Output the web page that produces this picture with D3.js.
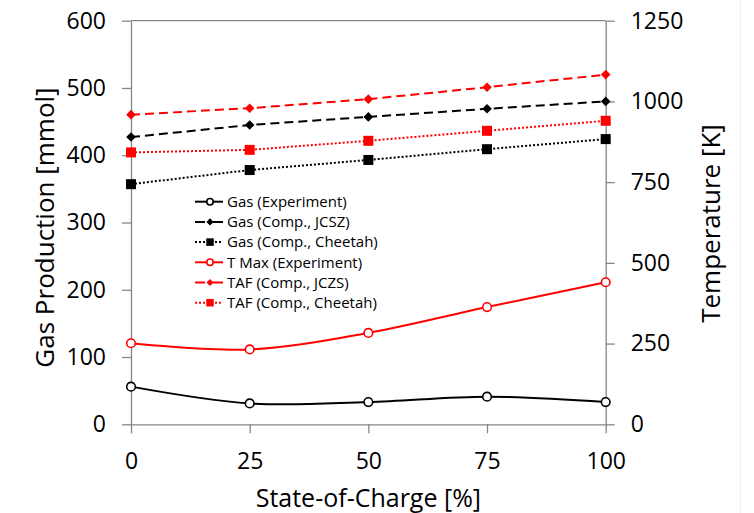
<!DOCTYPE html>
<html>
<head>
<meta charset="utf-8">
<script src="https://cdn.jsdelivr.net/npm/d3@7"></script>
<style>
  html, body { margin: 0; padding: 0; background: #fff; }
  svg { display: block; font-family: "Open Sans", "Noto Sans", sans-serif; }
</style>
</head>
<body>
<svg id="chart" width="754" height="513"></svg>
<script>
// State-of-charge levels (x axis)
const socPct = [0, 25, 50, 75, 100];

// Gas production [mmol] (left axis)
const gasExperiment = [56, 31, 33, 41, 33];
const gasJCSZ = [427, 445, 457, 469, 480];
const gasCheetah = [357, 378, 393, 409, 424];

// Temperature [K] (right axis)
const tMaxExperiment = [251, 232, 283, 363, 440];
const tafJCZS = [959, 979, 1007, 1044, 1083];
const tafCheetah = [842, 850, 878, 909, 940];

// Tick values
const socTicks = [0, 25, 50, 75, 100];
const gasTicks = [0, 100, 200, 300, 400, 500, 600];
const tempTicks = [0, 250, 500, 750, 1000, 1250];

// Legend labels, in drawing order
const legendLabels = [
  "Gas (Experiment)",
  "Gas (Comp., JCSZ)",
  "Gas (Comp., Cheetah)",
  "T Max (Experiment)",
  "TAF (Comp., JCZS)",
  "TAF (Comp., Cheetah)"
];

const svg = d3.select("#chart");
const plot = { left: 131, right: 605.7, top: 20.7, bottom: 424.3 };
const axisColor = "#868686";

const x = d3.scaleLinear().domain([0, 100]).range([plot.left, plot.right]);
const yGas = d3.scaleLinear().domain([0, 600]).range([plot.bottom, plot.top]);
const yTemp = d3.scaleLinear().domain([0, 1250]).range([plot.bottom, plot.top]);

const series = [
  { values: gasExperiment, y: yGas, color: "#000", dash: null, marker: "circle", smooth: true },
  { values: gasJCSZ, y: yGas, color: "#000", dash: "9,5", marker: "diamond", smooth: false },
  { values: gasCheetah, y: yGas, color: "#000", dash: "2,2", marker: "square", smooth: false },
  { values: tMaxExperiment, y: yTemp, color: "#ff0000", dash: null, marker: "circle", smooth: true },
  { values: tafJCZS, y: yTemp, color: "#ff0000", dash: "9,5", marker: "diamond", smooth: false },
  { values: tafCheetah, y: yTemp, color: "#ff0000", dash: "2,2", marker: "square", smooth: false }
];
series.forEach((s, i) => s.label = legendLabels[i]);

// faint frame edge on the right
svg.append("line")
  .attr("x1", 740.5).attr("x2", 740.5).attr("y1", 0).attr("y2", 513)
  .attr("stroke", "#efefef").attr("stroke-width", 1);

// top border of the plot area
svg.append("line")
  .attr("x1", plot.left).attr("x2", plot.right)
  .attr("y1", plot.top).attr("y2", plot.top)
  .attr("stroke", axisColor).attr("stroke-width", 1.3);

function styleAxis(g) {
  g.select(".domain").attr("stroke", axisColor).attr("stroke-width", 1.3);
  g.selectAll(".tick line").attr("stroke", axisColor).attr("stroke-width", 1.3);
  g.selectAll(".tick text")
    .attr("fill", "#000")
    .style("font-family", "'Open Sans', sans-serif")
    .style("font-size", "23px");
}

const fmt = d3.format("d");

svg.append("g")
  .attr("transform", `translate(0,${plot.bottom})`)
  .call(d3.axisBottom(x).tickValues(socTicks).tickFormat(fmt).tickSize(9).tickSizeOuter(0).tickPadding(19.5))
  .call(styleAxis);

svg.append("g")
  .attr("transform", `translate(${plot.left},0)`)
  .call(d3.axisLeft(yGas).tickValues(gasTicks).tickFormat(fmt).tickSize(9).tickSizeOuter(0).tickPadding(16))
  .call(styleAxis);

svg.append("g")
  .attr("transform", `translate(${plot.right},0)`)
  .call(d3.axisRight(yTemp).tickValues(tempTicks).tickFormat(fmt).tickSize(9).tickSizeOuter(0).tickPadding(16))
  .call(styleAxis);

// axis titles
svg.append("text")
  .attr("transform", `translate(53.5,${(plot.top + plot.bottom) / 2 + 5}) rotate(-90)`)
  .attr("text-anchor", "middle")
  .style("font-size", "26px")
  .text("Gas Production [mmol]");

svg.append("text")
  .attr("transform", `translate(720,${(plot.top + plot.bottom) / 2 + 1}) rotate(-90)`)
  .attr("text-anchor", "middle")
  .style("font-size", "26px")
  .text("Temperature [K]");

svg.append("text")
  .attr("x", (plot.left + plot.right) / 2)
  .attr("y", 506.5)
  .attr("text-anchor", "middle")
  .style("font-size", "25px")
  .text("State-of-Charge [%]");

// marker drawing
function drawMarker(sel, type, color, scale) {
  if (type === "circle") {
    sel.append("circle").attr("r", 4.3 * scale)
      .attr("fill", "#fff").attr("stroke", color).attr("stroke-width", 1.6);
  } else if (type === "diamond") {
    sel.append("path")
      .attr("d", d3.symbol(d3.symbolDiamond2, Math.pow(4.8 * scale / 0.62625, 2))())
      .attr("fill", color);
  } else {
    const side = 10 * scale;
    sel.append("path")
      .attr("d", d3.symbol(d3.symbolSquare, side * side)())
      .attr("fill", color);
  }
}

// series lines and markers
series.forEach(s => {
  const line = d3.line()
    .x((d, i) => x(socPct[i]))
    .y(d => s.y(d))
    .curve(s.smooth ? d3.curveCardinal.tension(0) : d3.curveLinear);

  svg.append("path")
    .datum(s.values)
    .attr("d", line)
    .attr("fill", "none")
    .attr("stroke", s.color)
    .attr("stroke-width", 2)
    .attr("stroke-dasharray", s.dash);

  s.values.forEach((v, i) => {
    const g = svg.append("g").attr("transform", `translate(${x(socPct[i])},${s.y(v)})`);
    drawMarker(g, s.marker, s.color, 1);
  });
});

// legend
const legend = svg.append("g").attr("transform", "translate(195,201.7)");
series.forEach((s, i) => {
  const row = legend.append("g").attr("transform", `translate(0,${i * 20.2})`);
  row.append("line")
    .attr("x1", 0).attr("x2", 28).attr("y1", 0).attr("y2", 0)
    .attr("stroke", s.color).attr("stroke-width", 2)
    .attr("stroke-dasharray", s.dash ? (s.dash === "2,2" ? "2,2" : "10,8") : null);
  const m = row.append("g").attr("transform", "translate(15,0)");
  drawMarker(m, s.marker, s.color, 0.75);
  row.append("text")
    .attr("x", 32).attr("y", 5.2)
    .style("font-size", "15px")
    .text(s.label);
});
</script>
</body>
</html>
